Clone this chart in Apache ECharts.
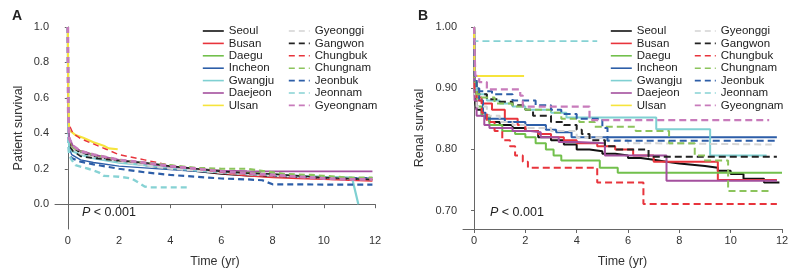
<!DOCTYPE html>
<html><head><meta charset="utf-8">
<script src="https://cdn.jsdelivr.net/npm/echarts@6/dist/echarts.min.js"></script>
<style>html,body{margin:0;padding:0;background:#fff}#c{width:796px;height:276px}</style>
</head><body><div id="c"></div>
<script>
// ---------- Data ----------
const regions = ['Seoul','Busan','Daegu','Incheon','Gwangju','Daejeon','Ulsan','Gyeonggi','Gangwon','Chungbuk','Chungnam','Jeonbuk','Jeonnam','Gyeongnam'];
const xTicks = [0,2,4,6,8,10,12];
const yTicksA = [0,0.2,0.4,0.6,0.8,1.0];
const yTicksB = [0.70,0.80,0.90,1.00];

// Panel A: patient survival [time (yr), survival]
const A_Seoul = [[0,1],[0.02,0.5],[0.05,0.36],[0.15,0.32],[0.5,0.29],[1,0.27],[2,0.24],[3,0.22],[4,0.2],[5,0.185],[6,0.17],[7,0.16],[8,0.155],[9,0.15],[10,0.145],[11,0.14],[11.9,0.138]];
const A_Busan = [[0,1],[0.02,0.5],[0.05,0.37],[0.15,0.33],[0.5,0.3],[1,0.28],[2,0.245],[3,0.225],[4,0.205],[5,0.19],[6,0.175],[7,0.16],[8,0.15],[9,0.145],[10,0.14],[11,0.135],[11.9,0.13]];
const A_Daegu = [[0,1],[0.02,0.5],[0.05,0.37],[0.2,0.32],[0.5,0.3],[1,0.28],[2,0.25],[3,0.23],[4,0.215],[5,0.2],[6,0.19],[7,0.18],[8,0.17],[9,0.16],[10,0.155],[11,0.15],[11.9,0.15]];
const A_Incheon = [[0,1],[0.02,0.45],[0.05,0.32],[0.15,0.28],[0.5,0.25],[1,0.235],[2,0.215],[3,0.205],[4,0.195],[5,0.185],[6,0.178],[7,0.17],[8,0.16],[9,0.155],[10,0.15],[11,0.15],[11.9,0.15]];
const A_Gwangju = [[0,1],[0.02,0.45],[0.05,0.33],[0.15,0.3],[0.5,0.28],[1,0.26],[2,0.235],[3,0.22],[4,0.205],[5,0.19],[6,0.18],[7,0.17],[8,0.165],[9,0.16],[10,0.155],[11.1,0.15],[11.35,0.0]];
const A_Daejeon = [[0,1],[0.02,0.5],[0.05,0.38],[0.2,0.33],[0.5,0.3],[1,0.28],[2,0.25],[3,0.23],[4,0.21],[5,0.2],[6,0.19],[7,0.187],[8,0.185],[11.9,0.185]];
const A_Ulsan = [[0,1],[0.02,0.6],[0.05,0.42],[0.3,0.39],[0.6,0.375],[1,0.35],[1.4,0.33],[1.6,0.315],[1.95,0.31]];
const A_Gyeonggi = [[0,1],[0.02,0.48],[0.05,0.35],[0.2,0.31],[0.5,0.285],[1,0.265],[2,0.24],[3,0.22],[4,0.2],[5,0.19],[6,0.178],[7,0.17],[8,0.16],[9,0.155],[10,0.15],[11,0.145],[11.9,0.145]];
const A_Gangwon = [[0,1],[0.02,0.45],[0.05,0.33],[0.2,0.3],[0.5,0.27],[1,0.26],[2,0.245],[3,0.235],[4,0.215],[5,0.2],[6,0.185],[7,0.175],[8,0.17],[9,0.16],[10,0.15],[11,0.145],[11.9,0.14]];
const A_Chungbuk = [[0,1],[0.02,0.5],[0.05,0.45],[0.2,0.4],[0.5,0.37],[1,0.34],[1.5,0.31],[2,0.28],[3,0.25],[4,0.22],[5,0.2],[6,0.18],[7,0.17],[8,0.16],[9,0.15],[10,0.145],[11,0.14],[11.9,0.14]];
const A_Chungnam = [[0,1],[0.02,0.48],[0.05,0.36],[0.2,0.32],[0.5,0.3],[1,0.28],[2,0.25],[3,0.235],[4,0.22],[5,0.205],[6,0.2],[7,0.2],[7.5,0.19],[8,0.18],[8.5,0.17],[9.5,0.165],[10,0.16],[11,0.15],[11.9,0.15]];
const A_Jeonbuk = [[0,1],[0.02,0.4],[0.05,0.29],[0.15,0.26],[0.5,0.24],[1,0.225],[2,0.2],[3,0.18],[4,0.165],[5,0.155],[6,0.145],[7,0.14],[7.6,0.135],[8,0.112],[11.9,0.11]];
const A_Jeonnam = [[0,1],[0.02,0.35],[0.05,0.28],[0.15,0.25],[0.3,0.22],[0.8,0.2],[1.2,0.18],[1.4,0.16],[2,0.155],[2.5,0.145],[3,0.1],[3.2,0.095],[4.7,0.095]];
const A_Gyeongnam = [[0,1],[0.02,0.5],[0.05,0.37],[0.2,0.33],[0.5,0.3],[1,0.28],[2,0.25],[3,0.235],[4,0.215],[5,0.2],[6,0.185],[7,0.175],[8,0.165],[9,0.155],[10,0.145],[11,0.14],[11.9,0.14]];

// Panel B: renal survival, step points [time of change, new value]
const B_Seoul = [[0,1],[0.02,0.9],[0.05,0.875],[0.1,0.865],[0.3,0.855],[0.6,0.845],[1,0.84],[1.5,0.835],[2,0.83],[2.5,0.82],[3,0.815],[3.5,0.808],[4,0.8],[4.5,0.797],[5,0.793],[5.5,0.79],[6,0.786],[6.5,0.783],[7,0.78],[7.5,0.777],[8,0.775],[8.5,0.773],[9,0.77],[9.5,0.765],[10,0.76],[10.5,0.752],[11.3,0.746],[11.9,0.746]];
const B_Busan = [[0,1],[0.02,0.9],[0.1,0.885],[0.3,0.875],[0.7,0.865],[1.2,0.85],[1.7,0.84],[2,0.83],[2.5,0.825],[3,0.82],[3.5,0.815],[4,0.81],[4.8,0.805],[5.5,0.8],[6.2,0.79],[7,0.78],[9.5,0.75],[11.8,0.75]];
const B_Daegu = [[0,1],[0.02,0.9],[0.1,0.87],[0.3,0.855],[0.6,0.84],[1.1,0.83],[1.6,0.825],[2,0.82],[2.4,0.81],[2.8,0.8],[3.1,0.79],[3.4,0.782],[4.9,0.77],[5.6,0.762],[12,0.762]];
const B_Incheon = [[0,1],[0.02,0.92],[0.05,0.9],[0.2,0.88],[0.35,0.86],[0.45,0.85],[1.2,0.845],[2,0.84],[2.8,0.832],[3.2,0.828],[3.8,0.82],[11.8,0.82]];
const B_Gwangju = [[0,1],[0.02,0.91],[0.1,0.89],[0.5,0.88],[1,0.875],[1.5,0.87],[2,0.865],[3,0.86],[3.6,0.852],[7.1,0.833],[9.2,0.79],[11.4,0.79]];
const B_Daejeon = [[0,1],[0.02,0.88],[0.1,0.855],[0.4,0.84],[0.6,0.835],[1.5,0.83],[2.2,0.828],[2.6,0.82],[3.3,0.812],[4,0.81],[5.1,0.79],[7.5,0.749],[11.8,0.749]];
const B_Ulsan = [[0,1],[0.02,0.92],[1.95,0.92]];
const B_Gyeonggi = [[0,1],[0.02,0.89],[0.1,0.87],[0.5,0.855],[1,0.845],[1.5,0.84],[2,0.835],[3,0.83],[4,0.82],[5,0.815],[6,0.81],[7,0.808],[11.6,0.808]];
const B_Gangwon = [[0,1],[0.02,0.91],[0.1,0.89],[0.5,0.882],[1,0.878],[1.5,0.872],[2,0.865],[2.3,0.855],[3,0.845],[3.5,0.84],[4,0.832],[4.2,0.825],[4.5,0.815],[5.1,0.805],[5.5,0.8],[6.8,0.788],[11.8,0.788]];
const B_Chungbuk = [[0,1],[0.02,0.9],[0.1,0.88],[0.3,0.86],[0.5,0.845],[0.8,0.83],[1.1,0.815],[1.4,0.805],[1.6,0.79],[1.9,0.78],[2.1,0.77],[4.8,0.746],[6.6,0.711],[11.8,0.711]];
const B_Chungnam = [[0,1],[0.02,0.91],[0.1,0.89],[0.3,0.885],[0.8,0.875],[1.5,0.87],[2,0.865],[3,0.86],[3.4,0.85],[4.1,0.845],[4.7,0.837],[6.3,0.83],[7.6,0.81],[8.6,0.79],[9.0,0.782],[9.9,0.732],[11.5,0.732]];
const B_Jeonbuk = [[0,1],[0.02,0.92],[0.1,0.9],[0.2,0.895],[0.7,0.89],[1.5,0.88],[2.4,0.872],[3,0.865],[3.4,0.858],[4,0.85],[5,0.835],[5.2,0.814],[11.8,0.814]];
const B_Jeonnam = [[0,1],[0.02,0.977],[4.8,0.977]];
const B_Gyeongnam = [[0,1],[0.05,0.92],[0.2,0.91],[0.5,0.898],[1.8,0.888],[1.9,0.87],[4.5,0.848],[11.5,0.848]];

const dataA = [A_Seoul,A_Busan,A_Daegu,A_Incheon,A_Gwangju,A_Daejeon,A_Ulsan,A_Gyeonggi,A_Gangwon,A_Chungbuk,A_Chungnam,A_Jeonbuk,A_Jeonnam,A_Gyeongnam];
const dataB = [B_Seoul,B_Busan,B_Daegu,B_Incheon,B_Gwangju,B_Daejeon,B_Ulsan,B_Gyeonggi,B_Gangwon,B_Chungbuk,B_Chungnam,B_Jeonbuk,B_Jeonnam,B_Gyeongnam];

// ---------- Styles ----------
const colors = ['#111111','#e8343c','#72c04c','#2d5ea8','#7fd0d2','#a4509e','#f6e43c','#d4d4d4','#222222','#e8343c','#8cc45c','#2d5ea8','#86d2d4','#c87bbb'];
const dashed = [false,false,false,false,false,false,false,true,true,true,true,true,true,true];
const widthA = [1.4,1.4,1.4,1.4,2.2,1.6,2.2,2,1.6,1.4,2.2,2.2,2.4,2.8];
const widthB = [2,2,2,2,2,2,2,2,2,2,2,2,1.8,2.2];

const FONT = 'Liberation Sans, Arial, sans-serif';
const txt = {color:'#333', fontFamily:FONT, fontSize:11};

function xAxisCfg(gi, mn){
  return {type:'value', gridIndex:gi, min:mn, max:12,
    name:'Time (yr)', nameLocation:'middle', nameGap:26,
    nameTextStyle:{color:'#333', fontFamily:FONT, fontSize:12.5},
    axisLine:{show:true, lineStyle:{color:'#666', width:1}},
    axisTick:{show:true, length:4, inside:false, lineStyle:{color:'#666'}, customValues:xTicks},
    axisLabel:Object.assign({margin:6, customValues:xTicks, formatter:v=>String(v)}, txt),
    splitLine:{show:false}};
}
function yAxisCfg(gi, mn, mx, ticks, name, dec, gap){
  return {type:'value', gridIndex:gi, min:mn, max:mx,
    name:name, nameLocation:'middle', nameGap:gap,
    nameTextStyle:{color:'#333', fontFamily:FONT, fontSize:12.5},
    axisLine:{show:true, lineStyle:{color:'#666', width:1}},
    axisTick:{show:true, length:3, lineStyle:{color:'#666'}, customValues:ticks},
    axisLabel:Object.assign({margin:6, customValues:ticks, formatter:v=>v.toFixed(dec)}, txt),
    splitLine:{show:false}};
}

const series = [];
regions.forEach((r,i)=>{
  series.push({name:r, type:'line', xAxisIndex:0, yAxisIndex:0, data:dataA[i], showSymbol:false, symbol:'none',
    animation:false, silent:true,
    lineStyle:{color:colors[i], width:widthA[i], type:dashed[i]?[6,4]:'solid'}, itemStyle:{color:colors[i]}});
});
regions.forEach((r,i)=>{
  series.push({name:r, type:'line', step:'end', xAxisIndex:1, yAxisIndex:1, data:dataB[i], showSymbol:false, symbol:'none',
    animation:false, silent:true,
    lineStyle:{color:colors[i], width:widthB[i], type:dashed[i]?[7,4]:'solid'}, itemStyle:{color:colors[i]}});
});

function legendCfg(left, names){
  return {left:left, top:25, orient:'vertical', padding:0, itemGap:0.4, itemWidth:21, itemHeight:10,
    selectedMode:false, data:names,
    itemStyle:{opacity:0, borderWidth:0},
    lineStyle:{width:1.6},
    textStyle:{color:'#222', fontFamily:FONT, fontSize:11.5}};
}
const col1 = regions.slice(0,7), col2 = regions.slice(7);

const option = {
  animation:false,
  backgroundColor:'#fff',
  grid:[{left:55, top:27, width:320, height:202},{left:463, top:27, width:319, height:202}],
  xAxis:[xAxisCfg(0,-0.5), xAxisCfg(1,-0.43)],
  yAxis:[yAxisCfg(0,-0.14,1.0,yTicksA,'Patient survival',1,30), yAxisCfg(1,0.67,1.0,yTicksB,'Renal survival',2,37)],
  legend:[legendCfg(202,col1), legendCfg(288,col2), legendCfg(610,col1), legendCfg(694,col2)],
  title:[
    {text:'A', left:7, top:4, textStyle:{fontFamily:FONT, fontSize:14, fontWeight:'bold', color:'#222'}},
    {text:'B', left:413, top:4, textStyle:{fontFamily:FONT, fontSize:14, fontWeight:'bold', color:'#222'}},
    {text:'{i|P} < 0.001', left:77, top:201, textStyle:{rich:{i:{fontStyle:'italic', fontFamily:FONT, fontSize:12.5, color:'#222'}}, fontFamily:FONT, fontSize:12.5, fontWeight:'normal', color:'#222'}},
    {text:'{i|P} < 0.001', left:485, top:201, textStyle:{rich:{i:{fontStyle:'italic', fontFamily:FONT, fontSize:12.5, color:'#222'}}, fontFamily:FONT, fontSize:12.5, fontWeight:'normal', color:'#222'}}
  ],
  series:series
};
const chart = echarts.init(document.getElementById('c'), null, {renderer:'canvas'});
chart.setOption(option);
</script></body></html>
